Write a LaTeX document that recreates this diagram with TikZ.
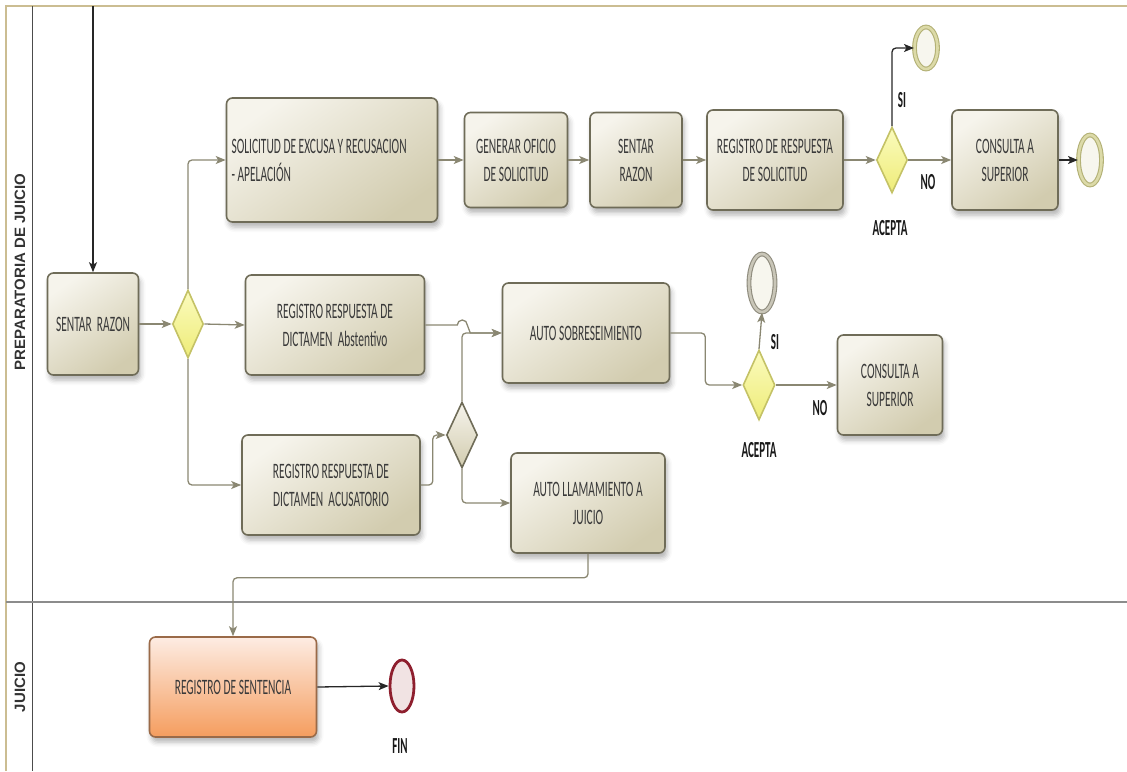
\documentclass[tikz,border=0pt]{standalone}
\usepackage{fontspec}
\setmainfont{Carlito}
\newfontfamily\taskfont[FakeStretch=0.52]{Carlito}
\newfontfamily\tagfont[FakeStretch=0.48]{Carlito}
\newfontfamily\lanefont{Liberation Sans}
\usetikzlibrary{shapes.geometric,arrows.meta,shadows.blur}

\definecolor{taskline}{HTML}{6F6C58}
\definecolor{tasktop}{HTML}{F6F4EC}
\definecolor{taskbot}{HTML}{D2CCAF}
\definecolor{txt}{HTML}{3A3A3A}
\definecolor{arrowc}{HTML}{8A8772}
\definecolor{gwline}{HTML}{C4C266}
\definecolor{gwtop}{HTML}{FBFBBE}
\definecolor{gwbot}{HTML}{EEEC78}
\definecolor{ringc}{HTML}{B3B176}
\definecolor{ringmid}{HTML}{DCDAA8}
\definecolor{ringfill}{HTML}{F7F6EE}
\definecolor{grayring}{HTML}{8F8C7E}
\definecolor{grayringmid}{HTML}{C9C6B8}
\definecolor{finring}{HTML}{8E1F2E}
\definecolor{finfill}{HTML}{F1E3E3}
\definecolor{sentline}{HTML}{9A6A48}
\definecolor{senttop}{HTML}{FDECE3}
\definecolor{sentbot}{HTML}{F59D5E}
\definecolor{framec}{HTML}{CBBD92}
\definecolor{lanediv}{HTML}{8C8C8C}

\tikzset{
  shadowed/.style={blur shadow={shadow xshift=2pt, shadow yshift=-5pt,
      shadow blur radius=5pt, shadow opacity=30}},
  task/.style={rectangle, rounded corners=6pt, draw=taskline, line width=1.6pt,
      top color=tasktop, bottom color=taskbot, shading angle=35,
      shadowed, inner sep=4pt, align=center, text=txt,
      font=\taskfont\fontsize{22}{28}\selectfont},
  sentbox/.style={task, draw=sentline, top color=senttop, bottom color=sentbot},
  gw/.style={diamond, draw=gwline, line width=1.6pt, top color=gwtop,
      bottom color=gwbot, minimum width=31, minimum height=66, inner sep=0pt},
  gwplain/.style={gw, draw=taskline, top color=tasktop, bottom color=taskbot},
  endev/.style={ellipse, inner sep=0pt, minimum width=23, minimum height=50,
      draw=ringc, line width=1.1pt, double=ringmid, double distance=2.6pt,
      fill=ringfill},
  endgray/.style={endev, draw=grayring, double=grayringmid},
  finev/.style={ellipse, inner sep=0pt, minimum width=24, minimum height=52,
      draw=finring, line width=2.8pt, fill=finfill},
  conn/.style={draw=arrowc, line width=1.3pt, rounded corners=4pt,
      -{Stealth[length=10pt, width=8pt, inset=2.5pt]}},
  bconn/.style={conn, draw=black!85},
  tag/.style={font=\tagfont\bfseries\fontsize{23}{23}\selectfont, text=black!90,
      inner sep=0pt},
  lanelabel/.style={rotate=90, font=\lanefont\bfseries\fontsize{15}{15}\selectfont,
      text=black!80, inner sep=0pt}
}

\begin{document}
\begin{tikzpicture}[x=1pt, y=-1pt]
  \useasboundingbox (0,0) rectangle (1127,771);

  % pool frame and lanes
  \draw[framec, line width=2.5pt] (6,771) -- (6,6) -- (1127,6);
  \draw[black!70, line width=1pt] (32,6) -- (32,771);
  \draw[lanediv, line width=2.5pt] (6,602) -- (1127,602);
  \node[lanelabel] (laneA) at (20,272) {PREPARATORIA DE JUICIO};
  \node[lanelabel] (laneB) at (20,687) {JUICIO};

  % tasks
  \node[task, minimum width=91, minimum height=102] (sr1) at (93,324) {SENTAR~~RAZON};
  \node[task, text width=201, inner xsep=5pt, minimum height=124, align=flush left]
       (sol) at (332,160) {SOLICITUD DE EXCUSA Y RECUSACION\\- APELACIÓN};
  \node[task, minimum width=103, minimum height=95] (gen) at (516,160) {GENERAR OFICIO\\DE SOLICITUD};
  \node[task, minimum width=92, minimum height=95] (sr2) at (636,160) {SENTAR\\RAZON};
  \node[task, minimum width=136, minimum height=100] (regsol) at (775,160) {REGISTRO DE RESPUESTA\\DE SOLICITUD};
  \node[task, minimum width=106, minimum height=100] (cons1) at (1005,160) {CONSULTA A\\SUPERIOR};
  \node[task, minimum width=179, minimum height=100] (abs) at (335,325) {REGISTRO RESPUESTA DE\\DICTAMEN~~Abstentivo};
  \node[task, minimum width=178, minimum height=100] (acu) at (331,485) {REGISTRO RESPUESTA DE\\DICTAMEN~~ACUSATORIO};
  \node[task, minimum width=167, minimum height=100] (autosob) at (586,333) {AUTO SOBRESEIMIENTO};
  \node[task, minimum width=154, minimum height=100] (autollam) at (588,503) {AUTO LLAMAMIENTO A\\JUICIO};
  \node[task, minimum width=105, minimum height=100] (cons2) at (890,385) {CONSULTA A\\SUPERIOR};
  \node[sentbox, minimum width=167, minimum height=100] (sent) at (233,687) {REGISTRO DE SENTENCIA};

  % gateways
  \node[gw, minimum height=68] (gw1) at (188,324) {};
  \node[gw] (gwA1) at (892,160) {};
  \node[gwplain] (gw2) at (462,435) {};
  \node[gw, minimum width=32, minimum height=70] (gwA2) at (759,385) {};

  % events
  \coordinate (start) at (93,6);
  \node[endev, minimum width=23, minimum height=42] (endA) at (926,48) {};
  \node[endev] (endB) at (1090,160) {};
  \node[endgray, minimum width=26, minimum height=58] (endC) at (762,283) {};
  \node[finev] (fin) at (402,686) {};

  % flows
  \draw[bconn] (start) -- (sr1.north);
  \draw[conn] (sr1.east) -- (gw1.west);
  \draw[conn] (gw1.east) -- (abs.west);
  \draw[conn] (gw1.north) |- (sol.west);
  \draw[conn] (gw1.south) |- (acu.west);
  \draw[conn] (sol.east) -- (gen.west);
  \draw[conn] (gen.east) -- (sr2.west);
  \draw[conn] (sr2.east) -- (regsol.west);
  \draw[conn] (regsol.east) -- (gwA1.west);
  \draw[bconn] (gwA1.north) |- (endA.west);
  \draw[conn] (gwA1.east) -- (cons1.west);
  \draw[bconn] (cons1.east) -- (endB.west);
  \draw[conn, rounded corners=0pt] (abs.east) -- ++(32,0)
       arc[start angle=180, end angle=360, radius=5] -- ++(3,8) -- (autosob.west);
  \draw[conn] (gw2.north) |- (autosob.west);
  \draw[conn] (acu.east) -- ++(12,0) |- (gw2.west);
  \draw[conn] (gw2.south) |- (autollam.west);
  \draw[conn] (autosob.east) -- ++(35,0) |- (gwA2.west);
  \draw[conn] (gwA2.north) -- (endC.south);
  \draw[conn] (gwA2.east) -- (cons2.west);
  \draw[conn] (autollam.south) -- ++(0,24) -| (sent.north);
  \draw[bconn] (sent.east) -- (fin.west);

  % gateway and event labels
  \node[tag] (siA) at (902,100) {SI};
  \node[tag] (noA) at (928,182) {NO};
  \node[tag] (acA) at (890,228) {ACEPTA};
  \node[tag] (siB) at (775,342) {SI};
  \node[tag] (noB) at (820,408) {NO};
  \node[tag] (acB) at (759,450) {ACEPTA};
  \node[tag] (finlbl) at (400,746) {FIN};
\end{tikzpicture}
\end{document}
